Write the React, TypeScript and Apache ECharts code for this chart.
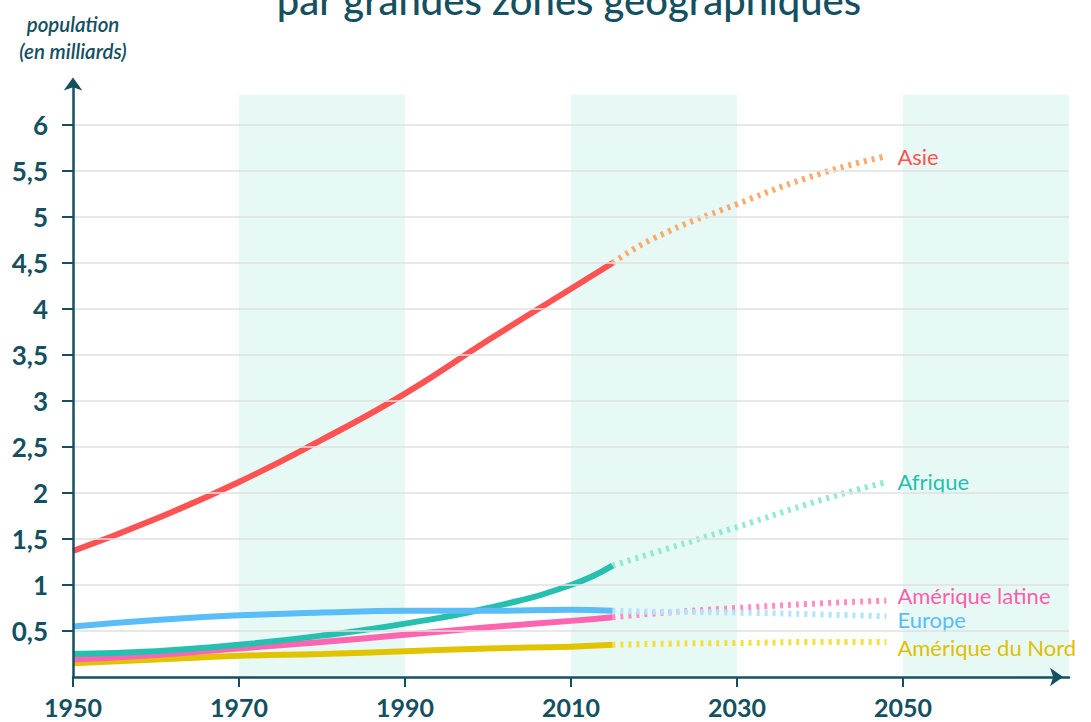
import React, { useEffect, useRef } from 'react';
import * as echarts from 'echarts';

// ---- data ----
const solidYears = [1950, 1960, 1970, 1980, 1990, 2000, 2010, 2015];
const projYears = [2015, 2020, 2030, 2040, 2048];

const asieSolid = [1.37, 1.72, 2.12, 2.58, 3.08, 3.66, 4.22, 4.5];
const asieProj = [4.5, 4.77, 5.14, 5.47, 5.66];
const afriqueSolid = [0.25, 0.28, 0.35, 0.45, 0.58, 0.75, 1.0, 1.21];
const afriqueProj = [1.21, 1.35, 1.63, 1.92, 2.12];
const europeSolid = [0.55, 0.62, 0.67, 0.7, 0.72, 0.72, 0.73, 0.72];
const europeProj = [0.72, 0.71, 0.7, 0.68, 0.66];
const latineSolid = [0.19, 0.24, 0.31, 0.38, 0.46, 0.54, 0.61, 0.65];
const latineProj = [0.65, 0.69, 0.75, 0.8, 0.83];
const nordSolid = [0.15, 0.19, 0.23, 0.25, 0.28, 0.31, 0.33, 0.35];
const nordProj = [0.35, 0.36, 0.37, 0.38, 0.38];

const yTicks = [0.5, 1, 1.5, 2, 2.5, 3, 3.5, 4, 4.5, 5, 5.5, 6];
const xTicks = [1950, 1970, 1990, 2010, 2030, 2050];
const bands = [
  [1970, 1990],
  [2010, 2030],
  [2050, 2070],
];
const bandTop = 6.33;

const titleText = 'par grandes zones géographiques';
const axisTitle = 'population\n(en milliards)';

// ---- styles ----
const DARK = '#14505f';
const FONT = 'Lato, "Open Sans", sans-serif';

const regions = [
  { name: 'Amérique du Nord', solid: nordSolid, proj: nordProj, color: '#e2c300', projColor: '#f3e03c', labelColor: '#dfbf00', dy: 5 },
  { name: 'Amérique latine', solid: latineSolid, proj: latineProj, color: '#ff64b0', projColor: '#ff8dc2', labelColor: '#ff5dab', dy: -5 },
  { name: 'Afrique', solid: afriqueSolid, proj: afriqueProj, color: '#27bfb0', projColor: '#8fe9d6', labelColor: '#27bfb0', dy: 0 },
  { name: 'Europe', solid: europeSolid, proj: europeProj, color: '#5bbdf8', projColor: '#b3e3fc', labelColor: '#5bbdf8', dy: 3 },
  { name: 'Asie', solid: asieSolid, proj: asieProj, color: '#ff5252', projColor: '#ffa96b', labelColor: '#ff5252', dy: 0 },
];

const pairs = (xs: number[], ys: number[]) => xs.map((x, i) => [x, ys[i]]);

export default function App() {
  const ref = useRef<HTMLDivElement>(null);
  useEffect(() => {
    document.body.style.margin = '0';
    const chart = echarts.init(ref.current!, null, { renderer: 'svg' });

    const series: any[] = [
      {
        type: 'line',
        name: 'bg',
        z: 1,
        silent: true,
        data: [[1950, 0]],
        showSymbol: false,
        lineStyle: { opacity: 0 },
        markArea: {
          silent: true,
          itemStyle: { color: '#e7f9f5' },
          data: bands.map((b) => [
            { xAxis: b[0], yAxis: 0 },
            { xAxis: b[1], yAxis: bandTop },
          ]),
        },
        markLine: {
          silent: true,
          symbol: 'none',
          label: { show: false },
          lineStyle: { color: '#e0e0e0', width: 1.5, type: 'solid' },
          data: yTicks.map((v) => ({ yAxis: v })),
        },
      },
    ];

    regions.forEach((r) => {
      series.push({
        type: 'line',
        name: r.name + ' solid',
        z: 3,
        smooth: 0.5,
        showSymbol: false,
        data: pairs(solidYears, r.solid),
        lineStyle: { color: r.color, width: 6, cap: 'butt' },
      });
      series.push({
        type: 'line',
        name: r.name,
        z: 2,
        smooth: 0.5,
        showSymbol: false,
        data: pairs(projYears, r.proj),
        lineStyle: { color: r.projColor, width: 6, type: [3, 5], cap: 'butt' },
        endLabel: {
          show: true,
          formatter: r.name,
          color: r.labelColor,
          fontSize: 22,
          fontFamily: FONT,
          distance: 11,
          offset: [0, r.dy],
        },
      });
    });

    chart.setOption({
      animation: false,
      backgroundColor: '#ffffff',
      grid: {
        left: 73,
        right: 22,
        top: 677 - 6.45 * 92,
        bottom: 45,
        containLabel: false,
        outerBoundsMode: 'none',
      },
      xAxis: {
        type: 'value',
        min: 1950,
        max: 2070,
        z: 10,
        splitLine: { show: false },
        axisLine: {
          show: true,
          lineStyle: { color: DARK, width: 2.5 },
          symbol: ['none', 'arrow'],
          symbolSize: [14, 13],
          symbolOffset: [0, -6],
        },
        axisTick: { show: true, length: 10, lineStyle: { color: DARK, width: 2 }, customValues: xTicks },
        axisLabel: {
          customValues: xTicks,
          color: DARK,
          fontSize: 25,
          fontWeight: 'bold',
          fontFamily: FONT,
          margin: 17,
          formatter: (v: number) => String(v),
        },
      },
      yAxis: {
        type: 'value',
        min: 0,
        max: 6.45,
        z: 10,
        splitLine: { show: false },
        axisLine: {
          show: true,
          lineStyle: { color: DARK, width: 2.5 },
          symbol: ['none', 'arrow'],
          symbolSize: [14, 13],
          symbolOffset: [0, 6],
        },
        axisTick: { show: true, length: 11, lineStyle: { color: DARK, width: 2 }, customValues: yTicks },
        axisLabel: {
          customValues: yTicks,
          color: DARK,
          fontSize: 26,
          fontWeight: 'bold',
          fontFamily: FONT,
          margin: 25,
          formatter: (v: number) => String(v).replace('.', ','),
        },
      },
      graphic: [
        {
          type: 'text',
          x: 569,
          y: 20,
          silent: true,
          style: {
            text: titleText,
            fill: DARK,
            fontSize: 40,
            fontWeight: 500,
            fontFamily: FONT,
            align: 'center',
            verticalAlign: 'bottom',
          },
        },
        {
          type: 'text',
          x: 73,
          y: 37.5,
          silent: true,
          style: {
            text: axisTitle,
            fill: DARK,
            fontSize: 20.5,
            fontStyle: 'italic',
            fontWeight: 600,
            fontFamily: FONT,
            lineHeight: 27,
            align: 'center',
            verticalAlign: 'middle',
          },
        },
      ],
      series,
    });
    return () => chart.dispose();
  }, []);
  return <div ref={ref} style={{ width: 1091, height: 722 }} />;
}
